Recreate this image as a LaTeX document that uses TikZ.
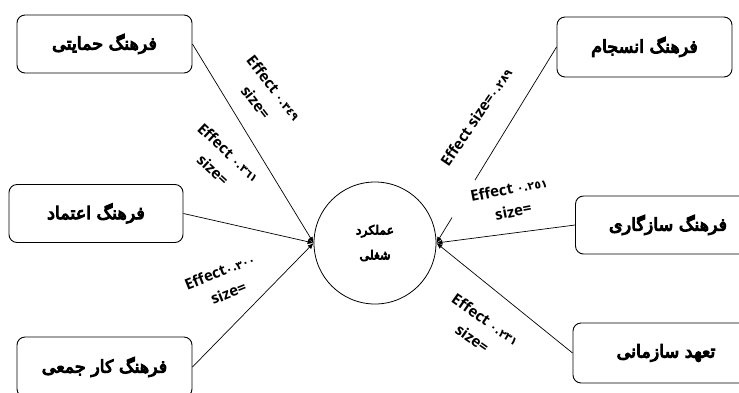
\documentclass[tikz,border=0pt]{standalone}
\usepackage{fontspec}
\setmainfont{Open Sans}
\newfontfamily\arabicfont[Script=Arabic]{DejaVu Sans}
\newfontfamily\arabicbold[Script=Arabic,FakeBold=6]{DejaVu Sans}
\TeXXeTstate=1
\usetikzlibrary{arrows.meta,positioning,calc}
\newcommand\effnum[1]{{\arabicfont\fontsize{11}{11}\selectfont #1}}

\begin{document}
\begin{tikzpicture}[x=1pt,y=-1pt,
  box/.style={draw,rounded corners=8pt,line width=0.9pt,minimum width=175pt,minimum height=58pt,
    font=\arabicbold\fontsize{17.5}{18}\selectfont},
  link/.style={line width=0.7pt},
  tip/.style={-{Latex[length=6pt,width=5pt]}},
  eff/.style={font=\bfseries\fontsize{15}{23}\selectfont,align=center,inner sep=1pt}]
   \useasboundingbox (0,0) rectangle (739,392);
   \clip (0,0) rectangle (739,392);

   %draw outcome
   \node[circle,draw,line width=0.8pt,minimum size=122pt,inner sep=0pt,align=center,
     font=\arabicbold\fontsize{12.5}{25}\selectfont] (perf) at (375,243)
     {\beginR عملکرد\endR\\\beginR شغلی\endR};

   %draw boxes
   \node[box] (sup) at (104.5,44) {\beginR فرهنگ حمایتی\endR};
   \node[box,minimum width=174pt] (tru) at (96,213.5) {\beginR فرهنگ اعتماد\endR};
   \node[box,minimum height=60pt] (team) at (104.5,367) {\beginR فرهنگ کار جمعی\endR};
   \node[box,minimum height=60pt] (coh) at (644.5,47) {\beginR فرهنگ انسجام\endR};
   \node[box,minimum width=185pt] (adapt) at (668,225) {\beginR فرهنگ سازگاری\endR};
   \node[box,minimum width=186pt,minimum height=60pt] (com) at (666,353) {\beginR تعهد سازمانی\endR};

   %draw links
   \draw[link,tip] (sup.east) -- (perf.west);
   \draw[link,tip] (tru.east) -- (perf.west);
   \draw[link,tip] (team.east) -- (perf.west);
   \draw[link] (coh.west) -- ($(coh.west)!.68!(perf.east)$);
   \draw[link,tip] ($(coh.west)!.87!(perf.east)$) -- (perf.east);
   \draw[link,tip] (adapt.west) -- (perf.east);
   \draw[link,tip] (com.west) -- (perf.east);

   %draw effect sizes
   \node[eff,rotate=-52] (e1) at (265,95) {Effect \effnum{٠.٣٤٩}\\size=};
   \node[eff,rotate=-43] (e2) at (221,161) {Effect \effnum{٠.٣٦١}\\size=};
   \node[eff,rotate=22] (e3) at (224,282) {Effect\effnum{٠.٣٠٠}\\size=};
   \node[eff,rotate=56] (e4) at (476,117) {Effect size=\effnum{٠.٢٨٩}};
   \node[eff,rotate=11] (e5) at (511,200) {Effect \effnum{٠.٢٥١}\\size=};
   \node[eff,rotate=-35] (e6) at (479,329) {Effect \effnum{٠.٢٣١}\\size=};
\end{tikzpicture}
\end{document}
